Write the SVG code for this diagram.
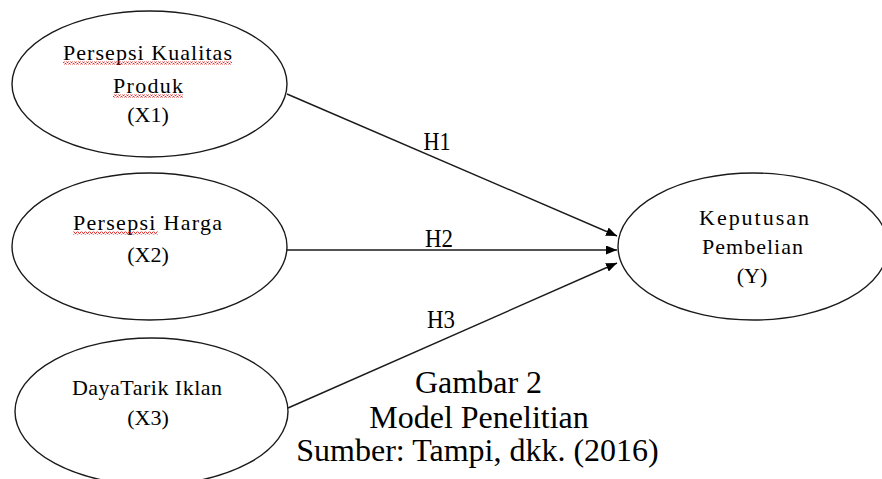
<svg xmlns="http://www.w3.org/2000/svg" width="882" height="479" viewBox="0 0 882 479">
<defs>
<style>
.node ellipse{fill:#fff;stroke:#1a1a1a;stroke-width:1.4}
.lbl{font-family:"Liberation Serif","Times New Roman",serif;font-size:22px;fill:#000;text-anchor:middle}
.h{font-family:"Liberation Serif","Times New Roman",serif;font-size:25px;fill:#000;text-anchor:middle}
.cap{font-family:"Liberation Serif","Times New Roman",serif;font-size:32px;fill:#000;text-anchor:middle}
.edge{stroke:#1a1a1a;stroke-width:1.4;fill:none;marker-end:url(#arr)}
</style>
<marker id="arr" markerUnits="userSpaceOnUse" markerWidth="11" markerHeight="9" refX="11" refY="4.5" orient="auto">
<path d="M0,0 L11,4.5 L0,9 z" fill="#000"/>
</marker>
<pattern id="sq" width="4" height="3" patternUnits="userSpaceOnUse">
<polyline points="0,2.5 1,0.5 2,0.5 3,2.5 4,2.5" fill="none" stroke="#e02020" stroke-width="0.9"/>
</pattern>
</defs>
<rect width="882" height="479" fill="#fff"/>
<g id="connectors">
<line class="edge" x1="287" y1="94" x2="617" y2="236"/>
<line class="edge" x1="287" y1="250" x2="617" y2="250"/>
<line class="edge" x1="288" y1="408" x2="617" y2="263"/>
<text class="h" x="437" y="150" textLength="27" lengthAdjust="spacingAndGlyphs">H1</text>
<text class="h" x="439" y="247" textLength="28" lengthAdjust="spacingAndGlyphs">H2</text>
<text class="h" x="441" y="328" textLength="28" lengthAdjust="spacingAndGlyphs">H3</text>
</g>
<g id="X1" class="node">
<ellipse cx="149.5" cy="84" rx="137.5" ry="73"/>
<text class="lbl" x="147.5" y="60" textLength="169" lengthAdjust="spacing">Persepsi Kualitas</text>
<text class="lbl" x="148" y="93" textLength="70" lengthAdjust="spacing">Produk</text>
<text class="lbl" x="148" y="122">(X1)</text>
<rect x="63" y="61.5" width="169" height="3" fill="url(#sq)"/>
<rect x="113" y="94.5" width="70" height="3" fill="url(#sq)"/>
</g>
<g id="X2" class="node">
<ellipse cx="149.5" cy="246.5" rx="137.5" ry="73.5"/>
<text class="lbl" x="147.5" y="230" textLength="149" lengthAdjust="spacing">Persepsi Harga</text>
<text class="lbl" x="148" y="262">(X2)</text>
<rect x="73" y="231.5" width="85" height="3" fill="url(#sq)"/>
</g>
<g id="X3" class="node">
<ellipse cx="151.5" cy="411.5" rx="136.5" ry="73.5"/>
<text class="lbl" x="147" y="395" textLength="150" lengthAdjust="spacing">DayaTarik Iklan</text>
<text class="lbl" x="148" y="425">(X3)</text>
</g>
<g id="Y" class="node">
<ellipse cx="753" cy="246.5" rx="135" ry="73.5"/>
<text class="lbl" x="754" y="225" textLength="110" lengthAdjust="spacing">Keputusan</text>
<text class="lbl" x="752.5" y="254" textLength="101" lengthAdjust="spacing">Pembelian</text>
<text class="lbl" x="752" y="283">(Y)</text>
</g>
<g id="caption">
<text class="cap" x="478.5" y="393">Gambar 2</text>
<text class="cap" x="479" y="428">Model Penelitian</text>
<text class="cap" x="477.5" y="461">Sumber: Tampi, dkk. (2016)</text>
</g>
</svg>
